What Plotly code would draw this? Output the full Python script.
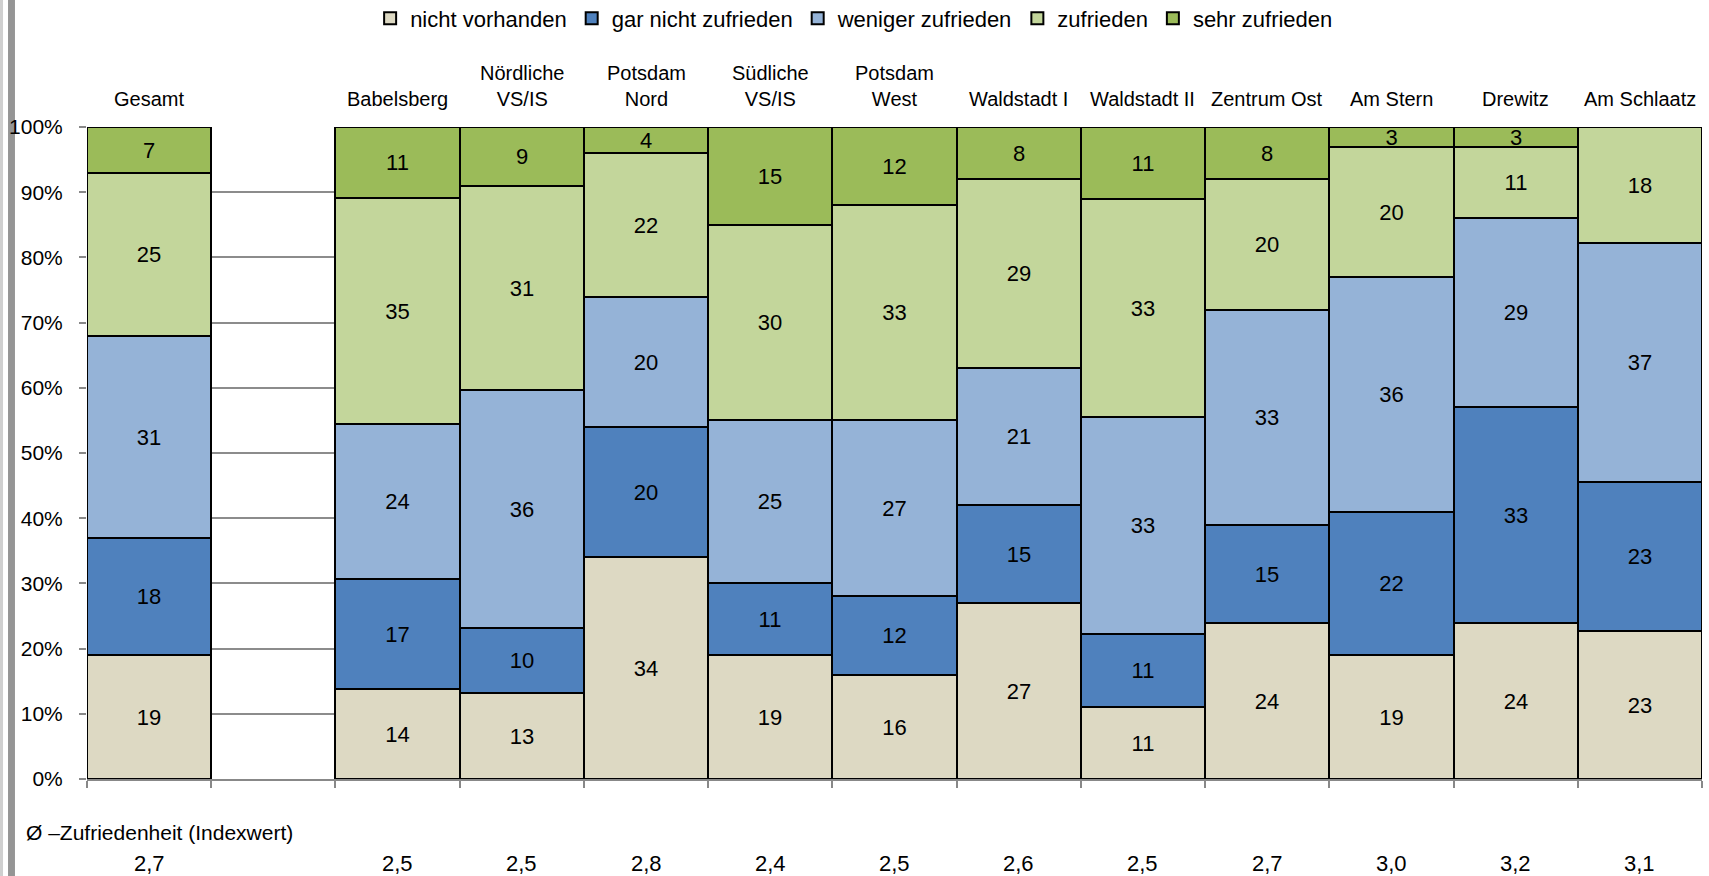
import plotly.graph_objects as go

categories = ["Gesamt", "", "Babelsberg", "Nördliche<br>VS/IS", "Potsdam<br>Nord", "Südliche<br>VS/IS",
              "Potsdam<br>West", "Waldstadt I", "Waldstadt II", "Zentrum Ost", "Am Stern", "Drewitz", "Am Schlaatz"]
positions = list(range(len(categories)))

nicht_vorhanden = [19, None, 14, 13, 34, 19, 16, 27, 11, 24, 19, 24, 23]
gar_nicht_zufrieden = [18, None, 17, 10, 20, 11, 12, 15, 11, 15, 22, 33, 23]
weniger_zufrieden = [31, None, 24, 36, 20, 25, 27, 21, 33, 33, 36, 29, 37]
zufrieden = [25, None, 35, 31, 22, 30, 33, 29, 33, 20, 20, 11, 18]
sehr_zufrieden = [7, None, 11, 9, 4, 15, 12, 8, 11, 8, 3, 3, 0]

index_values = ["2,7", "", "2,5", "2,5", "2,8", "2,4", "2,5", "2,6", "2,5", "2,7", "3,0", "3,2", "3,1"]
index_title = "Ø –Zufriedenheit (Indexwert)"

series = [
    ("nicht vorhanden", nicht_vorhanden, "#DDD9C3"),
    ("gar nicht zufrieden", gar_nicht_zufrieden, "#4F81BD"),
    ("weniger zufrieden", weniger_zufrieden, "#95B3D7"),
    ("zufrieden", zufrieden, "#C3D69B"),
    ("sehr zufrieden", sehr_zufrieden, "#9BBB59"),
]

FONT = "Liberation Sans, Arial, sans-serif"

fig = go.Figure()
for name, vals, color in series:
    fig.add_trace(go.Bar(
        x=positions, y=vals, name=name,
        marker=dict(color=color, line=dict(color="black", width=2)),
        text=[("" if (v is None or v == 0) else str(v)) for v in vals],
        textposition="inside", insidetextanchor="middle", textangle=0,
        insidetextfont=dict(color="black", size=22, family=FONT),
        width=1.0,
        hoverinfo="skip",
    ))

annotations = []
for p, c in zip(positions, categories):
    if c:
        annotations.append(dict(x=p, y=1, xref="x", yref="paper", text=c, showarrow=False,
                                yanchor="bottom", yshift=15, font=dict(size=20, family=FONT, color="black")))
for p, v in zip(positions, index_values):
    if v:
        annotations.append(dict(x=p, y=0, xref="x", yref="paper", text=v, showarrow=False,
                                yanchor="middle", yshift=-84, font=dict(size=22, family=FONT, color="black")))
annotations.append(dict(x=-0.0387, y=0, xref="paper", yref="paper", text=index_title, showarrow=False,
                        xanchor="left", yanchor="middle", yshift=-53, font=dict(size=21, family=FONT, color="black")))

shapes = [
    dict(type="rect", xref="paper", yref="paper", x0=-0.0539, x1=-0.0520, y0=-0.2, y1=1.25,
         fillcolor="#cfcfcf", line=dict(width=0), layer="below"),
    dict(type="rect", xref="paper", yref="paper", x0=-0.0489, x1=-0.0446, y0=-0.2, y1=1.25,
         fillcolor="#959595", line=dict(width=0), layer="below"),
]

fig.update_layout(
    barmode="stack", barnorm="percent", bargap=0,
    width=1709, height=876,
    margin=dict(l=87, r=7, t=127, b=97, autoexpand=False),
    paper_bgcolor="white", plot_bgcolor="white",
    font=dict(family=FONT, size=21, color="black"),
    uniformtext=dict(minsize=22, mode="show"),
    legend=dict(orientation="h", x=0.475, xanchor="center", y=1.1664, yanchor="middle",
                font=dict(size=22, family=FONT), itemwidth=30, traceorder="normal",
                tracegroupgap=0, bgcolor="rgba(0,0,0,0)"),
    xaxis=dict(range=[-0.5, len(categories) - 0.5], tickvals=[i - 0.5 for i in range(len(categories) + 1)],
               showticklabels=False, ticks="outside", ticklen=7, tickcolor="#888888", tickwidth=1.5,
               showline=True, linecolor="#888888", linewidth=1.5, showgrid=False, zeroline=False,
               fixedrange=True),
    yaxis=dict(range=[0, 100], dtick=10, ticksuffix="%", ticks="outside", ticklen=7, tickcolor="#888888",
               tickwidth=1.5, showgrid=True, gridcolor="#8c8c8c", gridwidth=1.5, showline=False,
               zeroline=False, tickfont=dict(size=21, family=FONT), ticklabelstandoff=12, fixedrange=True),
    annotations=annotations,
    shapes=shapes,
    showlegend=True,
)

fig.write_html("out.html", config={"displayModeBar": False},
               post_script="document.body.style.margin='0px';document.body.style.overflow='hidden';")
